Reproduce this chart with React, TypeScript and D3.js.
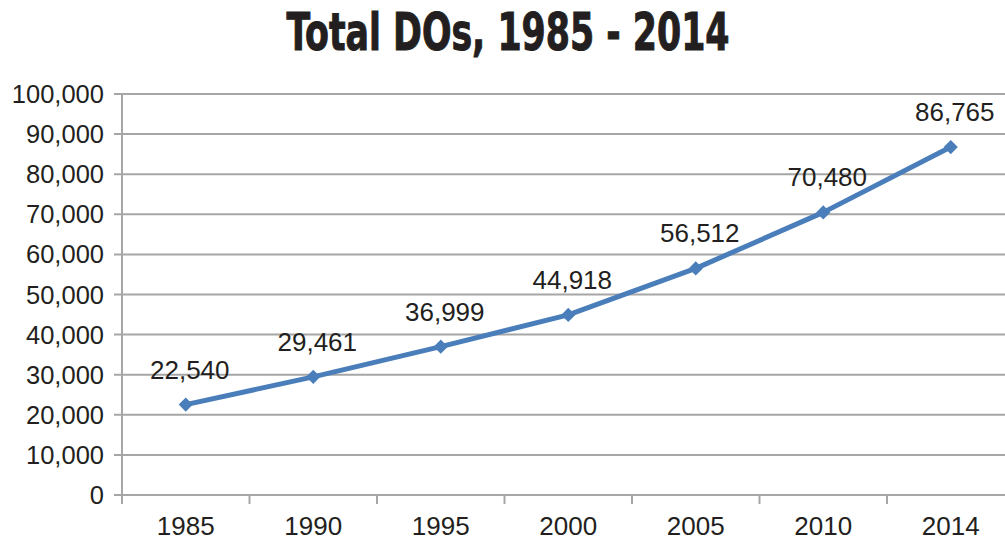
import React from "react";
import * as d3 from "d3";

const categories = ["1985", "1990", "1995", "2000", "2005", "2010", "2014"];
const values = [22540, 29461, 36999, 44918, 56512, 70480, 86765];
const yTicks = [0, 10000, 20000, 30000, 40000, 50000, 60000, 70000, 80000, 90000, 100000];
const title = "Total DOs, 1985 -  2014";

export default function App() {
  const W = 1005, H = 541;
  const left = 122, right = 1014.5, top = 94, bottom = 495;
  const x = d3.scaleBand<string>().domain(categories).range([left, right]).padding(0);
  const y = d3.scaleLinear().domain([0, 100000]).range([bottom, top]);
  const fmt = d3.format(",");
  const cx = (c: string) => (x(c) as number) + x.bandwidth() / 2;
  const line = d3.line<number>().x((_, i) => cx(categories[i])).y((d) => y(d));
  const grid = "#a6a6a6";
  const blue = "#4a7ebb";
  const font = "'Liberation Sans', Arial, sans-serif";
  const diamond = d3.symbol().type(d3.symbolSquare).size(100)() || "";
  return (
    <svg width={W} height={H} style={{ position: "absolute", left: 0, top: 0, background: "#fff" }}>
      <text x={508} y={50} textAnchor="middle" fontFamily="'Liberation Sans Narrow', 'DejaVu Sans Condensed', sans-serif"
        fontWeight="bold" fontSize={52} fill="#231f20" stroke="#231f20" strokeWidth={1} textLength={443} lengthAdjust="spacingAndGlyphs">{title}</text>
      {yTicks.map((t) => (
        <g key={t}>
          <line x1={114} x2={W} y1={y(t)} y2={y(t)} stroke={grid} strokeWidth={2} />
          <text x={104} y={y(t) + 9} textAnchor="end" fontFamily={font} fontSize={25.5} fill="#231f20">{fmt(t)}</text>
        </g>
      ))}
      <line x1={left} x2={left} y1={top} y2={bottom + 9} stroke={grid} strokeWidth={2} />
      {categories.map((c) => (
        <g key={c}>
          <line x1={(x(c) as number) + x.bandwidth()} x2={(x(c) as number) + x.bandwidth()} y1={bottom} y2={bottom + 9} stroke={grid} strokeWidth={2} />
          <text x={cx(c)} y={535} textAnchor="middle" fontFamily={font} fontSize={26} fill="#231f20">{c}</text>
        </g>
      ))}
      <path d={line(values) || ""} fill="none" stroke={blue} strokeWidth={5} strokeLinejoin="round" />
      {values.map((v, i) => (
        <g key={i}>
          <path d={diamond} transform={`translate(${cx(categories[i])},${y(v)}) rotate(45)`} fill={blue} />
          <text x={cx(categories[i]) + 4} y={y(v) - 26} textAnchor="middle" fontFamily={font} fontSize={26} fill="#231f20">{fmt(v)}</text>
        </g>
      ))}
    </svg>
  );
}
